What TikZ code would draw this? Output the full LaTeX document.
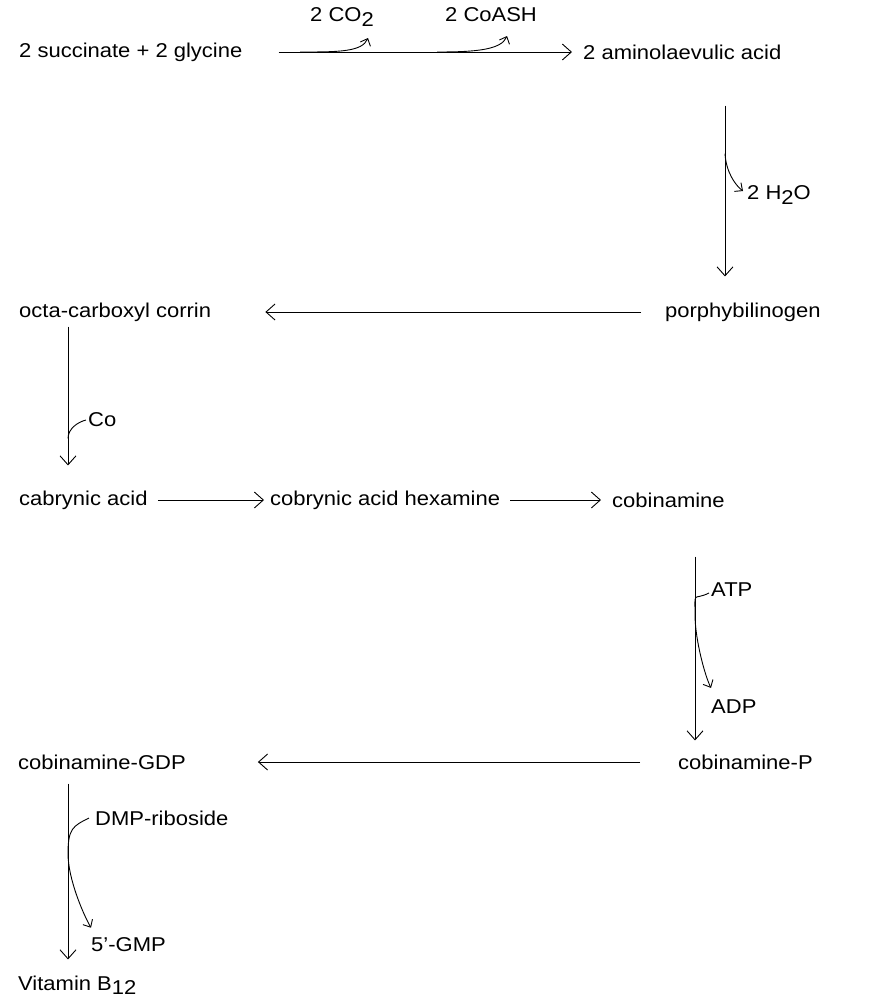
\documentclass[tikz,border=0pt]{standalone}
\usepackage{fontspec}
\setmainfont{Liberation Sans}[FakeStretch=1.1]
\usetikzlibrary{calc,arrows.meta}
\newcommand{\lowsub}[1]{\raisebox{-0.4ex}{#1}}

\begin{document}
\begin{tikzpicture}[x=1pt,y=-1pt,
   cpd/.style={anchor=west,inner sep=2pt,font=\fontsize{20}{24}\selectfont},
   rxn/.style={-{Straight Barb[length=9pt,width=16pt]},line width=0.9pt},
   side/.style={-{Straight Barb[length=6pt,width=11pt]},line width=0.9pt},
   feed/.style={line width=0.9pt}]
   \useasboundingbox (0,0) rectangle (875,1005);

   % compounds
   \node[cpd] (sg)   at (17,52)  {2 succinate + 2 glycine};
   \node[cpd] (ala)  at (581,52) {2 aminolaevulic acid};
   \node[cpd] (pbg)  at (663,312) {porphybilinogen};
   \node[cpd] (oc)   at (17,312) {octa-carboxyl corrin};
   \node[cpd] (cab)  at (17,500) {cabrynic acid};
   \node[cpd] (hex)  at (268,500) {cobrynic acid hexamine};
   \node[cpd] (cbi)  at (610,500) {cobinamine};
   \node[cpd] (cbp)  at (676,762) {cobinamine-P};
   \node[cpd] (gdp)  at (16,762) {cobinamine-GDP};
   \node[cpd] (b12)  at (16,985) {Vitamin B\lowsub{12}};

   % side products
   \node[cpd] (co2)  at (308,17) {2 CO\lowsub{2}};
   \node[cpd] (coa)  at (443,15) {2 CoASH};
   \node[cpd] (h2o)  at (745,195) {2 H\lowsub{2}O};
   \node[cpd] (co)   at (86,420) {Co};
   \node[cpd] (atp)  at (709,590) {ATP};
   \node[cpd] (adp)  at (709,707) {ADP};
   \node[cpd] (dmp)  at (93,818) {DMP-riboside};
   \node[cpd] (gmp)  at (89,945) {5'-GMP};

   % main steps
   \coordinate (xa) at (725,0);
   \coordinate (xb) at (68,0);
   \coordinate (xc) at (695,0);
   \draw[rxn] (sg.east) ++(34,0) coordinate (s1) -- ($(ala.west)+(-9,0)$) coordinate (s2);
   \draw[rxn] ($(ala.south -| xa)+(0,44)$) coordinate (s3) -- ($(pbg.north -| xa)+(0,-24)$);
   \draw[rxn] ($(pbg.west)+(-22,0)$) -- ($(oc.east)+(52,0)$);
   \draw[rxn] ($(oc.south -| xb)+(0,3)$) coordinate (s4) -- ($(cab.north -| xb)+(0,-23)$);
   \draw[rxn] ($(cab.east)+(8,0)$) -- ($(hex.west)+(-4,0)$);
   \draw[rxn] ($(hex.east)+(8,0)$) -- ($(cbi.west)+(-9,0)$);
   \draw[rxn] ($(cbi.south -| xc)+(0,47)$) coordinate (s5) -- ($(cbp.north -| xc)+(0,-12)$);
   \draw[rxn] ($(cbp.west)+(-36,0)$) -- ($(gdp.east)+(70,0)$);
   \draw[rxn] ($(gdp.south -| xb)+(0,12)$) coordinate (s6) -- ($(b12.north -| xb)+(0,-14)$);

   % branches
   \draw[side] ($(co2.west |- s1)+(-8,0)$) .. controls +(38,0) and +(-6,14) .. ($(co2.center)+(26,21)$);
   \draw[side] ($(coa.west |- s1)+(-6,0)$) .. controls +(38,0) and +(-6,14) .. ($(coa.center)+(16,21)$);
   \draw[side] ($(s3)+(0,48)$) .. controls +(1,18) and +(-8,-6) .. ($(h2o.west)+(-2,-4)$);
   \draw[feed] ($(s4)+(0,112)$) .. controls +(0,-10) and +(-8,2) .. (co.west);
   \draw[side] ($(atp.west)+(0,3)$) .. controls +(-16,8) and +(0,-25) .. ($(s5)+(0,58)$)
                 .. controls +(0,25) and +(-6,-12) .. ($(adp.north west)+(2,-10)$);
   \draw[side] ($(dmp.west)+(-4,0)$) .. controls +(-16,8) and +(0,-25) .. ($(s6)+(0,70)$)
                 .. controls +(0,25) and +(-8,-14) .. ($(gmp.north west)+(2,-8)$);
\end{tikzpicture}
\end{document}
